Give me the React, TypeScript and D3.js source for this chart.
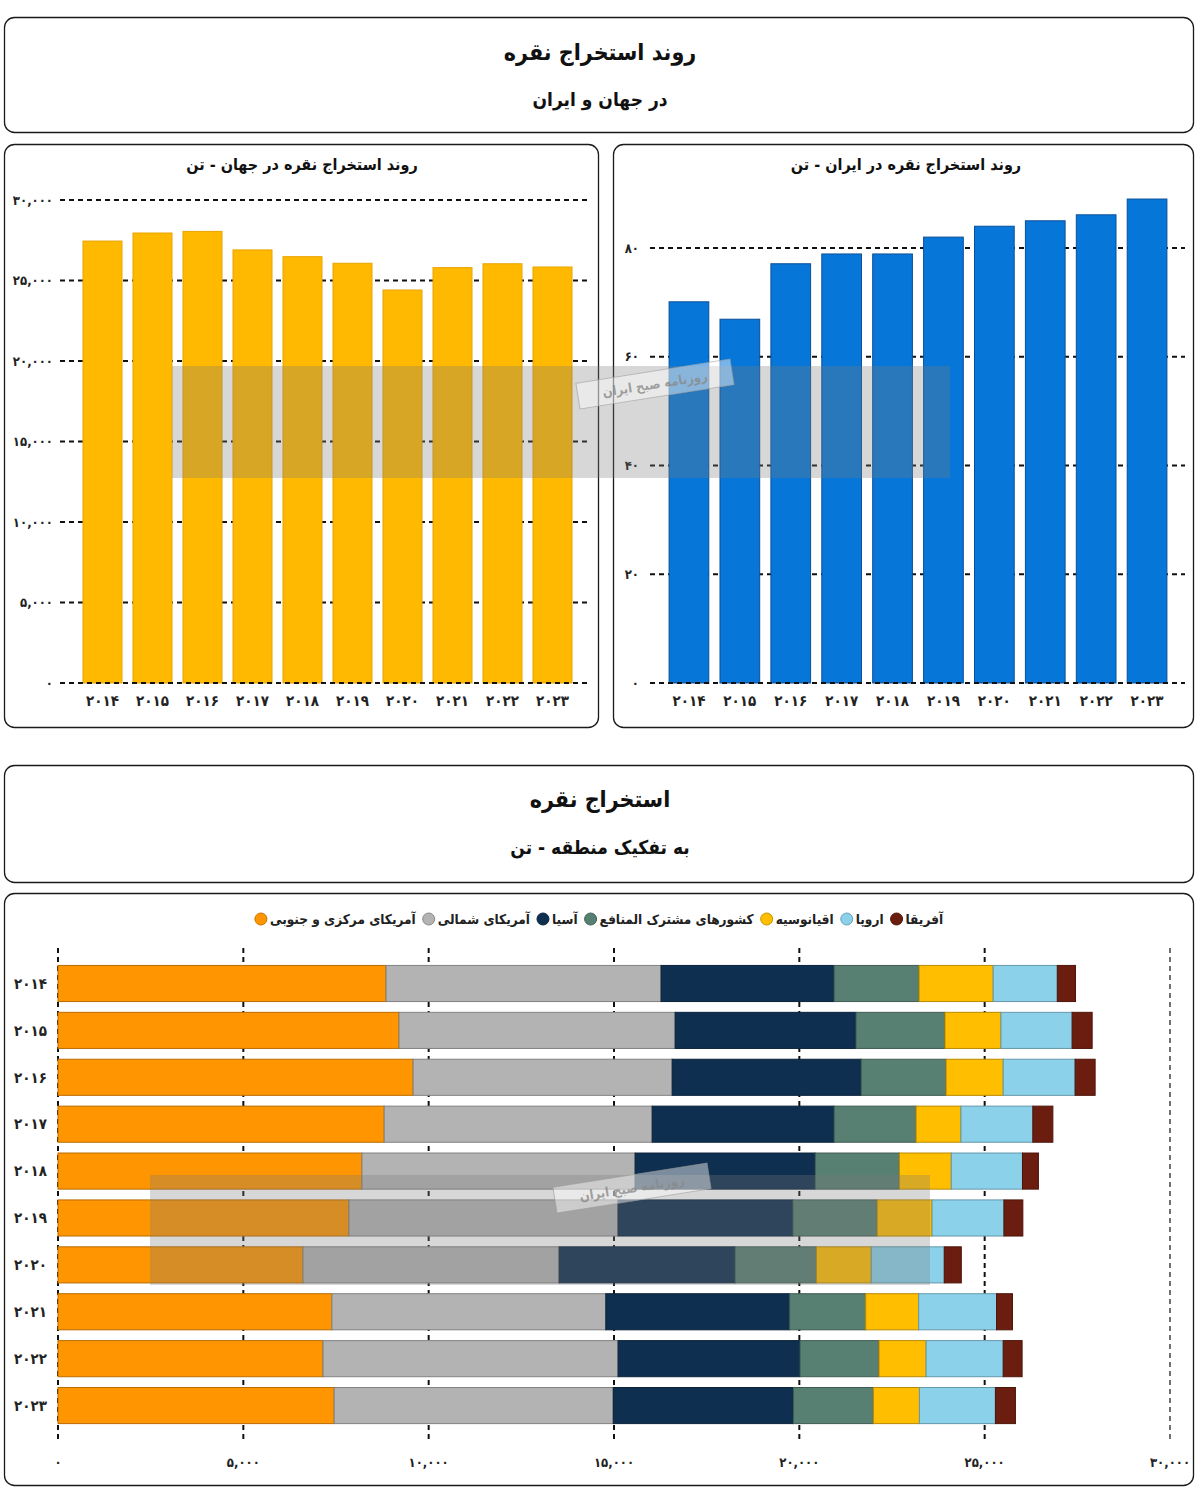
import React, { useEffect, useRef } from 'react';
import * as d3 from 'd3';

const years = [2014, 2015, 2016, 2017, 2018, 2019, 2020, 2021, 2022, 2023];
const worldProduction = [27450, 27950, 28050, 26900, 26480, 26070, 24410, 25800, 26040, 25840];
const iranProduction = [70.1, 66.9, 77.1, 78.9, 78.9, 82.0, 84.0, 85.0, 86.1, 89.0];
const worldTicks = [0, 5000, 10000, 15000, 20000, 25000, 30000];
const iranTicks = [0, 20, 40, 60, 80];
const regionTicks = [0, 5000, 10000, 15000, 20000, 25000, 30000];

const regionNames = ['آمریکای مرکزی و جنوبی', 'آمریکای شمالی', 'آسیا', 'کشورهای مشترک المنافع', 'اقیانوسیه', 'اروپا', 'آفریقا'];
const regionColors = ['#FF9500', '#B3B3B3', '#0E2F4F', '#577F72', '#FFBE00', '#8BD1EA', '#6B1D0F'];
const centralSouthAmerica = [8850, 9200, 9580, 8800, 8200, 7850, 6610, 7390, 7150, 7450];
const northAmerica = [7420, 7450, 6990, 7230, 7370, 7260, 6910, 7390, 7960, 7530];
const asia = [4670, 4880, 5100, 4910, 4860, 4720, 4750, 4960, 4910, 4860];
const cis = [2290, 2400, 2290, 2210, 2270, 2270, 2190, 2050, 2130, 2160];
const oceania = [2000, 1510, 1540, 1210, 1400, 1480, 1480, 1430, 1270, 1240];
const europe = [1730, 1920, 1940, 1940, 1920, 1940, 1970, 2100, 2080, 2050];
const africa = [490, 540, 540, 540, 430, 510, 460, 430, 510, 540];
const regionSeries = [centralSouthAmerica, northAmerica, asia, cis, oceania, europe, africa];

const FONT = '"DejaVu Sans Condensed", "DejaVu Sans", sans-serif';
const fa = (s: string) => s.replace(/\d/g, (d) => '۰۱۲۳۴۵۶۷۸۹'[+d]);
const fmt = d3.format(',');

export default function App() {
  const ref = useRef<SVGSVGElement | null>(null);

  useEffect(() => {
    const svg = d3.select(ref.current);
    svg.selectAll('*').remove();
    svg.append('rect').attr('width', 1200).attr('height', 1490).attr('fill', '#fff');

    const panel = (x: number, y: number, w: number, h: number) =>
      svg.append('rect').attr('x', x).attr('y', y).attr('width', w).attr('height', h)
        .attr('rx', 10).attr('fill', '#fff').attr('stroke', '#1a1a1a').attr('stroke-width', 1.3);

    const title = (x: number, y: number, s: string, size: number) =>
      svg.append('text').attr('x', x).attr('y', y).attr('dy', '0.35em')
        .attr('text-anchor', 'middle').attr('direction', 'rtl')
        .attr('font-family', FONT).attr('font-weight', 'bold').attr('font-size', size)
        .attr('fill', '#111').text(s);

    // Header boxes
    panel(4.5, 17.5, 1189, 115);
    title(600, 52, 'روند استخراج نقره', 23);
    title(600, 99, 'در جهان و ایران', 19);

    panel(4.5, 765.5, 1189, 117);
    title(600, 799, 'استخراج نقره', 23);
    title(600, 847, 'به تفکیک منطقه - تن', 19);

    // Left: world
    panel(4.5, 144.5, 594, 583);
    title(302, 164, 'روند استخراج نقره در جهان - تن', 16);
    {
      const x = d3.scaleBand<number>().domain(years).range([78, 577]).paddingInner(0.22).paddingOuter(0.1);
      const y = d3.scaleLinear().domain([0, 30000]).range([683, 200]);
      const g = svg.append('g');
      g.selectAll('line.grid').data(worldTicks.filter((t) => t > 0)).join('line')
        .attr('x1', 60).attr('x2', 590).attr('y1', (d) => y(d)).attr('y2', (d) => y(d))
        .attr('stroke', '#111').attr('stroke-width', 2).attr('stroke-dasharray', '5,4');
      g.selectAll('rect.bar').data(worldProduction).join('rect')
        .attr('x', (_, i) => x(years[i])!).attr('width', x.bandwidth())
        .attr('y', (d) => y(d)).attr('height', (d) => y(0) - y(d))
        .attr('fill', '#FFB900').attr('stroke', '#E8A400').attr('stroke-width', 1);
      g.append('line').attr('x1', 60).attr('x2', 590).attr('y1', y(0)).attr('y2', y(0))
        .attr('stroke', '#111').attr('stroke-width', 2).attr('stroke-dasharray', '5,4');
      g.selectAll('text.yt').data(worldTicks).join('text')
        .attr('x', 53).attr('y', (d) => y(d)).attr('dy', '0.35em').attr('text-anchor', 'end')
        .attr('font-family', FONT).attr('font-weight', 'bold').attr('font-size', 13).attr('fill', '#222')
        .text((d) => fa(fmt(d)));
      g.selectAll('text.xt').data(years).join('text')
        .attr('x', (d) => x(d)! + x.bandwidth() / 2).attr('y', 701).attr('dy', '0.35em')
        .attr('text-anchor', 'middle').attr('font-family', FONT).attr('font-weight', 'bold')
        .attr('font-size', 15).attr('fill', '#222').text((d) => fa(String(d)));
    }

    // Right: Iran
    panel(613.5, 144.5, 580, 583);
    title(906, 164, 'روند استخراج نقره در ایران - تن', 16);
    {
      const x = d3.scaleBand<number>().domain(years).range([664, 1172]).paddingInner(0.22).paddingOuter(0.1);
      const y = d3.scaleLinear().domain([0, 90]).range([683, 193.6]);
      const g = svg.append('g');
      g.selectAll('line.grid').data(iranTicks.filter((t) => t > 0)).join('line')
        .attr('x1', 650).attr('x2', 1185).attr('y1', (d) => y(d)).attr('y2', (d) => y(d))
        .attr('stroke', '#111').attr('stroke-width', 2).attr('stroke-dasharray', '5,4');
      g.selectAll('rect.bar').data(iranProduction).join('rect')
        .attr('x', (_, i) => x(years[i])!).attr('width', x.bandwidth())
        .attr('y', (d) => y(d)).attr('height', (d) => y(0) - y(d))
        .attr('fill', '#0677D8').attr('stroke', '#0A4F99').attr('stroke-width', 1);
      g.append('line').attr('x1', 650).attr('x2', 1185).attr('y1', y(0)).attr('y2', y(0))
        .attr('stroke', '#111').attr('stroke-width', 2).attr('stroke-dasharray', '5,4');
      g.selectAll('text.yt').data(iranTicks).join('text')
        .attr('x', 639).attr('y', (d) => y(d)).attr('dy', '0.35em').attr('text-anchor', 'end')
        .attr('font-family', FONT).attr('font-weight', 'bold').attr('font-size', 13).attr('fill', '#222')
        .text((d) => fa(fmt(d)));
      g.selectAll('text.xt').data(years).join('text')
        .attr('x', (d) => x(d)! + x.bandwidth() / 2).attr('y', 701).attr('dy', '0.35em')
        .attr('text-anchor', 'middle').attr('font-family', FONT).attr('font-weight', 'bold')
        .attr('font-size', 15).attr('fill', '#222').text((d) => fa(String(d)));
    }

    // Bottom: regions stacked
    panel(4.5, 893.5, 1189, 592);
    {
      const table = years.map((yr, i) => {
        const row: any = { year: yr };
        regionNames.forEach((n, k) => { row[n] = regionSeries[k][i]; });
        return row;
      });
      const stacked = d3.stack().keys(regionNames)(table);
      const x = d3.scaleLinear().domain([0, 30000]).range([58, 1170]);
      const y = d3.scaleBand<number>().domain(years).range([960.75, 1428.3]).paddingInner(0.23).paddingOuter(0.1);
      const g = svg.append('g');
      g.selectAll('line.grid').data(regionTicks).join('line')
        .attr('x1', (d) => x(d)).attr('x2', (d) => x(d)).attr('y1', 948).attr('y2', 1443)
        .attr('stroke', '#111').attr('stroke-width', (d) => (d === 30000 ? 1.2 : 2))
        .attr('stroke-dasharray', '5,4');
      stacked.forEach((layer, k) => {
        const c = regionColors[k];
        g.append('g').selectAll('rect').data(layer).join('rect')
          .attr('x', (d) => x(d[0])).attr('width', (d) => x(d[1]) - x(d[0]))
          .attr('y', (d: any) => y(d.data.year)!).attr('height', y.bandwidth())
          .attr('fill', c).attr('stroke', d3.color(c)!.darker(0.9).formatHex()).attr('stroke-width', 1);
      });
      g.selectAll('text.yt').data(years).join('text')
        .attr('x', 47).attr('y', (d) => y(d)! + y.bandwidth() / 2).attr('dy', '0.35em')
        .attr('text-anchor', 'end').attr('font-family', FONT).attr('font-weight', 'bold')
        .attr('font-size', 15).attr('fill', '#222').text((d) => fa(String(d)));
      g.selectAll('text.xt').data(regionTicks).join('text')
        .attr('x', (d) => x(d)).attr('y', 1462).attr('dy', '0.35em')
        .attr('text-anchor', 'middle').attr('font-family', FONT).attr('font-weight', 'bold')
        .attr('font-size', 13).attr('fill', '#222').text((d) => fa(fmt(d)));

      // legend, laid out right to left
      const lg = svg.append('g');
      const items: { t: any; w: number }[] = [];
      const order = regionNames.slice().reverse(); // آفریقا first (rightmost)
      order.forEach((n) => {
        const t = lg.append('text').attr('y', 919).attr('dy', '0.35em').attr('text-anchor', 'end')
          .attr('font-family', FONT).attr('font-size', 13.5).attr('font-weight', 'bold').attr('fill', '#222').text(n);
        const w = (t.node() as SVGTextElement).getComputedTextLength();
        items.push({ t, w });
      });
      const dot = 12, gap = 3, spacing = 7;
      const total = items.reduce((s, it) => s + it.w + gap + dot + spacing, 0) - spacing;
      let cur = 599 + total / 2;
      items.forEach((it, i) => {
        const n = order[i];
        const k = regionNames.indexOf(n);
        it.t.attr('x', cur);
        const cx = cur - it.w - gap - dot / 2;
        lg.append('circle').attr('cx', cx).attr('cy', 919).attr('r', dot / 2)
          .attr('fill', regionColors[k]).attr('stroke', d3.color(regionColors[k])!.darker(0.7).formatHex()).attr('stroke-width', 1);
        cur = cx - dot / 2 - spacing;
      });
    }

    // Watermark (translucent band and newspaper stamp)
    const wm = svg.append('g').attr('pointer-events', 'none');
    const mark = (rx: number, ry: number, rw: number, rh: number, sx: number, sy: number) => {
      wm.append('rect').attr('x', rx).attr('y', ry).attr('width', rw).attr('height', rh)
        .attr('fill', '#7a7a7a').attr('opacity', 0.3);
      const sg = wm.append('g').attr('transform', `translate(${sx},${sy}) rotate(-9)`);
      sg.append('rect').attr('x', -78).attr('y', -13).attr('width', 156).attr('height', 26)
        .attr('fill', '#ffffff').attr('fill-opacity', 0.45).attr('stroke', '#9a9a9a').attr('stroke-opacity', 0.6);
      sg.append('text').attr('x', 0).attr('y', 0).attr('dy', '0.35em').attr('text-anchor', 'middle')
        .attr('direction', 'rtl').attr('font-family', FONT).attr('font-size', 13).attr('font-weight', 'bold')
        .attr('fill', '#8a8a8a').attr('fill-opacity', 0.8).text('روزنامه صبح ایران');
    };
    mark(172, 366, 778, 112, 655, 384);
    mark(150, 1175, 780, 110, 632, 1188);
  }, []);

  return (
    <svg ref={ref} width={1200} height={1490} style={{ position: 'absolute', left: 0, top: 0, display: 'block' }} />
  );
}
